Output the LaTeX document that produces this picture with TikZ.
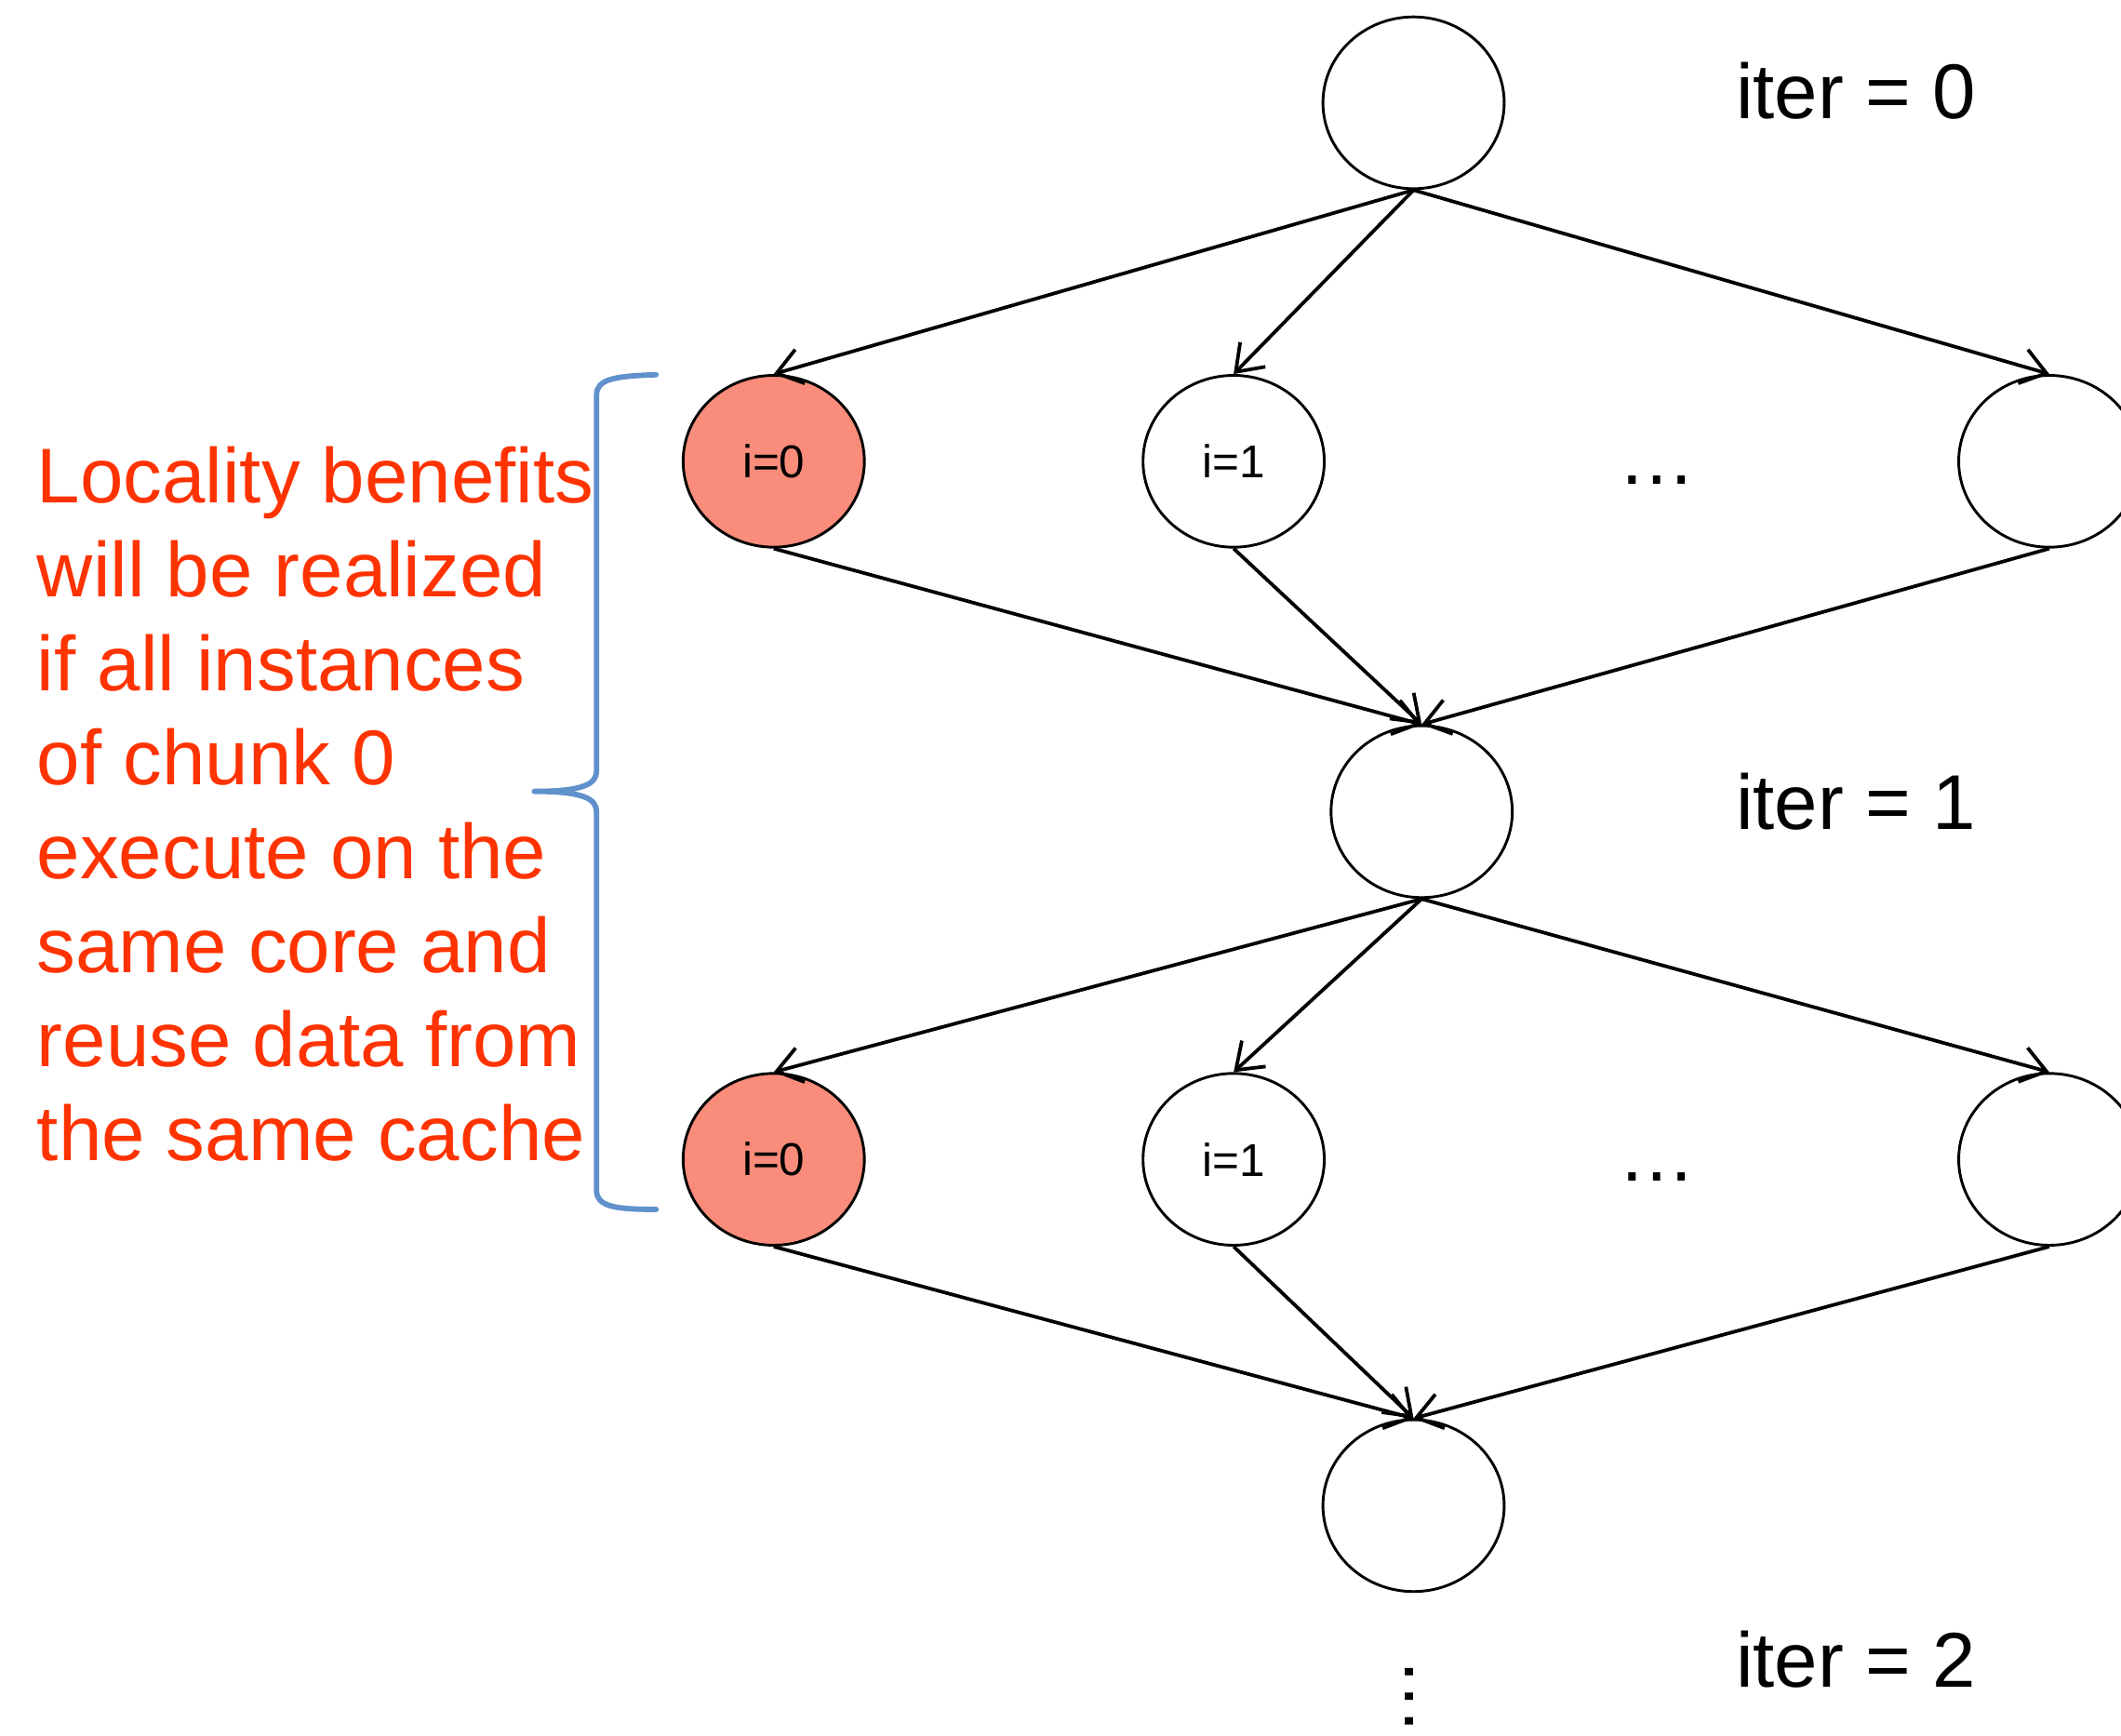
\documentclass[tikz,border=0pt]{standalone}
\usepackage{fontspec}
\setmainfont{Liberation Sans}
\usetikzlibrary{shapes.geometric,arrows.meta}
\definecolor{nodered}{RGB}{249,140,122}
\definecolor{notered}{RGB}{255,51,0}
\definecolor{braceblue}{RGB}{96,145,204}
\begin{document}
\begin{tikzpicture}[x=0.5pt,y=-0.5pt,
  vert/.style={ellipse,draw,line width=1pt,minimum width=67pt,minimum height=63.5pt,inner sep=0pt,font=\fontsize{17}{20}\selectfont},
  hot/.style={vert,fill=nodered},
  edge/.style={line width=1.3pt,-{Straight Barb[length=9pt,width=13pt]}},
  lab/.style={font=\fontsize{28.7}{34.7}\selectfont,inner sep=0pt},
  bracepath/.style={draw=braceblue,line width=2pt,line cap=round,line join=round}]
\clip (0,0) rectangle (1568,1283);
\fill[white] (0,0) rectangle (1568,1283);
% nodes
\node[vert] (t0) at (1045,76) {};
\node[hot]  (a0) at (572,341) {\raisebox{-2pt}{i=0}};
\node[vert] (a1) at (912,341) {\raisebox{-2pt}{i=1}};
\node[vert] (a2) at (1515,341) {};
\node[vert] (m)  at (1051,600) {};
\node[hot]  (b0) at (572,857) {\raisebox{-2pt}{i=0}};
\node[vert] (b1) at (912,857) {\raisebox{-2pt}{i=1}};
\node[vert] (b2) at (1515,857) {};
\node[vert] (e)  at (1045,1113) {};
% dots
\node[lab,anchor=base] (d1) at (1225,358) {…};
\node[lab,anchor=base] (d2) at (1225,873) {…};
\node[lab,anchor=base,rotate=90] (vd) at (1045,1254) {…};
% iter labels
\node[lab,anchor=base west] (it0) at (1283,88) {iter = 0};
\node[lab,anchor=base west] (it1) at (1283,613) {iter = 1};
\node[lab,anchor=base west] (it2) at (1283,1247) {iter = 2};
% edges
\draw[edge] (t0.south) -- (a0.north);
\draw[edge] (t0.south) -- (a1.north);
\draw[edge] (t0.south) -- (a2.north);
\draw[edge] (a0.south) -- (m.north);
\draw[edge] (a1.south) -- (m.north);
\draw[edge] (a2.south) -- (m.north);
\draw[edge] (m.south) -- (b0.north);
\draw[edge] (m.south) -- (b1.north);
\draw[edge] (m.south) -- (b2.north);
\draw[edge] (b0.south) -- (e.north);
\draw[edge] (b1.south) -- (e.north);
\draw[edge] (b2.south) -- (e.north);
% brace
\draw[bracepath] (485,277) .. controls (455,278) and (441,280) .. (441,292) -- (441,570)
  .. controls (441,580) and (430,585) .. (395,585)
  .. controls (430,585) and (441,590) .. (441,600) -- (441,880)
  .. controls (441,892) and (455,894) .. (485,894);
% note
\node[lab,anchor=north west,align=left,text=notered] (note) at (27,330)
  {Locality benefits\\will be realized\\if all instances\\of chunk 0\\execute on the\\same core and\\reuse data from\\the same cache};
\end{tikzpicture}
\end{document}
